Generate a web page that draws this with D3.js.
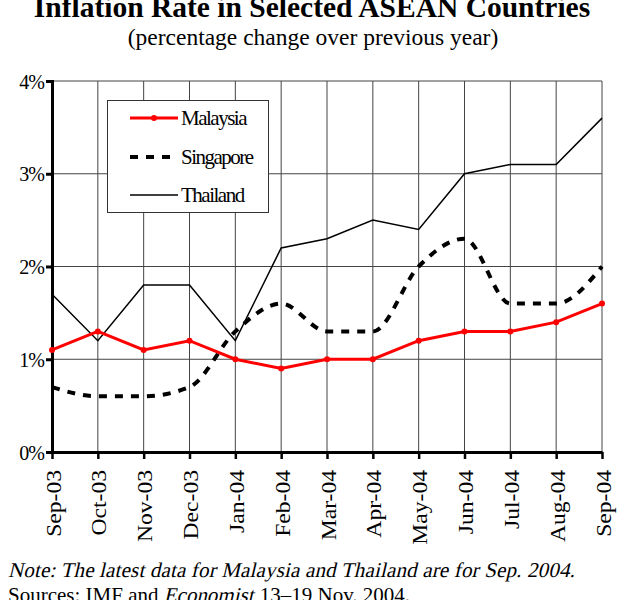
<!DOCTYPE html>
<html>
<head>
<meta charset="utf-8">
<script src="https://cdn.jsdelivr.net/npm/d3@7"></script>
<style>
  body { margin: 0; background: #fff; }
  svg text { font-family: "Liberation Serif", "DejaVu Serif", serif; fill: #000; }
</style>
</head>
<body>
<div id="chart"></div>
<script>
// data
var months = ["Sep-03", "Oct-03", "Nov-03", "Dec-03", "Jan-04", "Feb-04", "Mar-04",
              "Apr-04", "May-04", "Jun-04", "Jul-04", "Aug-04", "Sep-04"];
var malaysia  = [1.1, 1.3, 1.1, 1.2, 1.0, 0.9, 1.0, 1.0, 1.2, 1.3, 1.3, 1.4, 1.6];
var singapore = [0.7, 0.6, 0.6, 0.7, 1.3, 1.6, 1.3, 1.3, 2.0, 2.3, 1.6, 1.6, 2.0];
var thailand  = [1.7, 1.2, 1.8, 1.8, 1.2, 2.2, 2.3, 2.5, 2.4, 3.0, 3.1, 3.1, 3.6];
var yTicks = [0, 1, 2, 3, 4];

var W = 628, H = 600;
var margin = {top: 81, right: 26, bottom: 148, left: 52};

var svg = d3.select("#chart").append("svg")
    .attr("width", W)
    .attr("height", H);

var x = d3.scalePoint()
    .domain(months)
    .range([margin.left, W - margin.right]);

var y = d3.scaleLinear()
    .domain([0, 4])
    .range([H - margin.bottom, margin.top]);

// title
svg.append("text")
    .attr("x", 312).attr("y", 16.5)
    .attr("text-anchor", "middle")
    .style("font-size", "29.5px")
    .style("font-weight", "bold")
    .text("Inflation Rate in Selected ASEAN Countries");

svg.append("text")
    .attr("x", 313).attr("y", 45)
    .attr("text-anchor", "middle")
    .style("font-size", "23.5px")
    .text("(percentage change over previous year)");

// grid
svg.append("g")
    .selectAll("line")
    .data(yTicks.slice(1))
    .enter().append("line")
    .attr("x1", margin.left).attr("x2", W - margin.right)
    .attr("y1", function(d) { return y(d); })
    .attr("y2", function(d) { return y(d); })
    .attr("stroke", "#444").attr("stroke-width", 1);

svg.append("g")
    .selectAll("line")
    .data(months.slice(1))
    .enter().append("line")
    .attr("x1", function(d) { return x(d); })
    .attr("x2", function(d) { return x(d); })
    .attr("y1", y(4)).attr("y2", y(0))
    .attr("stroke", "#444").attr("stroke-width", 1);

// y axis
var yAxis = svg.append("g")
    .attr("transform", "translate(" + margin.left + ",0)")
    .call(d3.axisLeft(y).tickValues(yTicks).tickSize(6).tickPadding(2)
        .tickFormat(function(d) { return d + "%"; }));
yAxis.select(".domain").attr("stroke", "#000").attr("stroke-width", 3);
yAxis.selectAll(".tick line").attr("stroke", "#000").attr("stroke-width", 3);
yAxis.selectAll(".tick text")
    .style("font-size", "20px")
    .style("letter-spacing", "-1px")
    .attr("dy", "0.35em");

// x axis
var xAxis = svg.append("g")
    .attr("transform", "translate(0," + y(0) + ")")
    .call(d3.axisBottom(x).tickSize(7).tickSizeOuter(0));
xAxis.select(".domain").attr("stroke", "#000").attr("stroke-width", 3);
xAxis.selectAll(".tick line").attr("stroke", "#000").attr("stroke-width", 2.5);
xAxis.selectAll(".tick text")
    .style("font-size", "20px")
    .attr("text-anchor", "end")
    .attr("x", 0).attr("y", 0).attr("dy", "0.35em")
    .attr("transform", "translate(1,18) rotate(-90) scale(1.18,1)");

// lines
var line = d3.line()
    .x(function(d, i) { return x(months[i]); })
    .y(function(d) { return y(d); });

svg.append("path")
    .datum(thailand)
    .attr("fill", "none")
    .attr("stroke", "#000")
    .attr("stroke-width", 1.5)
    .attr("d", line);

svg.append("path")
    .datum(singapore)
    .attr("fill", "none")
    .attr("stroke", "#000")
    .attr("stroke-width", 4)
    .attr("stroke-dasharray", "8,8")
    .attr("d", line.curve(d3.curveMonotoneX));

line.curve(d3.curveLinear);

svg.append("path")
    .datum(malaysia)
    .attr("fill", "none")
    .attr("stroke", "#ff0000")
    .attr("stroke-width", 3)
    .attr("d", line);

svg.append("g")
    .selectAll("circle")
    .data(malaysia)
    .enter().append("circle")
    .attr("cx", function(d, i) { return x(months[i]); })
    .attr("cy", function(d) { return y(d); })
    .attr("r", 3)
    .attr("fill", "#ff0000");

// legend
var legend = svg.append("g");
legend.append("rect")
    .attr("x", 107.5).attr("y", 100.5)
    .attr("width", 161).attr("height", 112)
    .attr("fill", "#fff")
    .attr("stroke", "#333").attr("stroke-width", 1);

var legendItems = [
    {name: "Malaysia", color: "#ff0000", width: 3, dash: null, y: 118},
    {name: "Singapore", color: "#000", width: 4, dash: "8,8", y: 157},
    {name: "Thailand", color: "#000", width: 1.5, dash: null, y: 195}
];
legendItems.forEach(function(it) {
    legend.append("line")
        .attr("x1", 130).attr("x2", 178)
        .attr("y1", it.y).attr("y2", it.y)
        .attr("stroke", it.color)
        .attr("stroke-width", it.width)
        .attr("stroke-dasharray", it.dash);
    legend.append("text")
        .attr("x", 181).attr("y", it.y + 7)
        .style("font-size", "21px")
        .style("letter-spacing", "-1.5px")
        .text(it.name);
});
legend.append("circle")
    .attr("cx", 154).attr("cy", 118).attr("r", 3)
    .attr("fill", "#ff0000");

// notes -- the italic face is faked with a skew so it stays a serif
var slant = "skewX(-13)";
svg.append("g")
    .attr("transform", "translate(8,576.5) " + slant)
    .append("text")
    .style("font-size", "21px")
    .style("letter-spacing", "0.17px")
    .text("Note: The latest data for Malaysia and Thailand are for Sep. 2004.");

var srcY = 602;
var part1 = svg.append("text")
    .attr("x", 8).attr("y", srcY)
    .style("font-size", "21px")
    .text("Sources: IMF and\u00a0");
var x2 = 8 + part1.node().getComputedTextLength();
var part2 = svg.append("g")
    .attr("transform", "translate(" + x2 + "," + srcY + ") " + slant)
    .append("text")
    .style("font-size", "21px")
    .text("Economist");
var x3 = x2 + part2.node().getComputedTextLength() + 1;
svg.append("text")
    .attr("x", x3).attr("y", srcY)
    .style("font-size", "21px")
    .text("\u00a013\u201319 Nov. 2004.");
</script>
</body>
</html>
